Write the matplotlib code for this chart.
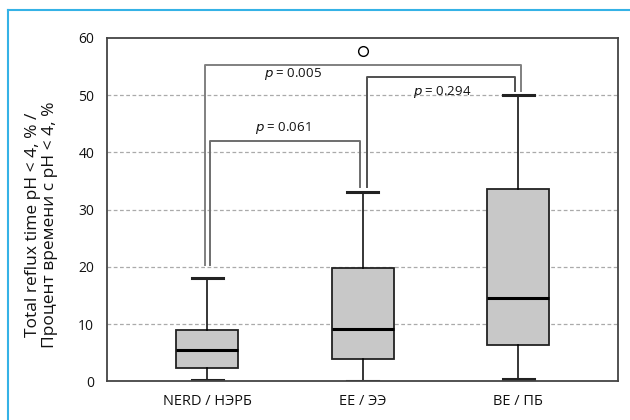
import matplotlib
matplotlib.use('Agg')
import matplotlib.pyplot as plt
from matplotlib.lines import Line2D

plt.rcParams['font.family'] = ['Open Sans', 'DejaVu Sans']

groups = ['NERD / НЭРБ', 'EE / ЭЭ', 'BE / ПБ']
whislo = [0.2, 0.1, 0.5]
q1 = [2.4, 4.0, 6.4]
med = [5.5, 9.2, 14.5]
q3 = [9.0, 19.8, 33.6]
whishi = [18.0, 33.0, 50.0]
fliers = [[], [57.7], []]

p_values = ['0.005', '0.061', '0.294']
br_x0 = [0.985, 1.017, 2.025]
br_x1 = [3.02, 1.98, 2.98]
br_top = [55.2, 42.0, 53.2]
br_lo0 = [20.3, 20.3, 34.0]
br_lo1 = [50.7, 34.0, 50.7]
br_col = ['#808080', '#6e6e6e', '#505050']
lab_x = [1.551, 1.484, 2.511]
lab_y = [53.7, 44.3, 50.6]

fig = plt.figure(figsize=(6.3, 4.2), dpi=100)
ax = fig.add_axes([0.1694, 0.0917, 0.812, 0.8185])

stats = []
for i in range(3):
    stats.append({'med': med[i], 'q1': q1[i], 'q3': q3[i],
                  'whislo': whislo[i], 'whishi': whishi[i], 'fliers': fliers[i]})

ax.bxp(stats, positions=[1, 2, 3], widths=0.4, capwidths=0.2, patch_artist=True,
       boxprops=dict(facecolor='#c8c8c8', edgecolor='#222222', linewidth=1.3),
       medianprops=dict(color='black', linewidth=2.2),
       whiskerprops=dict(color='black', linewidth=1.1),
       capprops=dict(color='#222222', linewidth=2.2),
       flierprops=dict(marker='o', markerfacecolor='white', markeredgecolor='black',
                       markersize=7, markeredgewidth=1.0))

# significance brackets
for i in range(3):
    ax.plot([br_x0[i], br_x0[i], br_x1[i], br_x1[i]],
            [br_lo0[i], br_top[i], br_top[i], br_lo1[i]],
            color=br_col[i], lw=1.4, zorder=1)
    ax.text(lab_x[i], lab_y[i], r'$\it{p}$ = ' + p_values[i], ha='center', va='center',
            fontsize=9.5, color='#111111')

ax.set_xlim(0.353, 3.643)
ax.set_ylim(0, 60)
ax.set_yticks(range(0, 61, 10))
ax.set_xticks([1, 2, 3])
ax.set_xticklabels(groups)
ax.tick_params(axis='both', length=0, labelsize=10, colors='#111111')
ax.tick_params(axis='x', pad=9, labelsize=10.5)
ax.tick_params(axis='y', pad=9)
for v in range(10, 51, 10):
    ax.axhline(v, color='#aaaaaa', lw=0.9, ls=(0, (3, 2)), zorder=0)
for s in ax.spines.values():
    s.set_color('#444444')
    s.set_linewidth(1.3)

fig.text(0.066, 0.464, 'Total reflux time pH < 4, % /\nПроцент времени с pH < 4, %',
         rotation=90, ha='center', va='center', fontsize=12.5, linespacing=1.12,
         multialignment='center', color='#111111')

fig.add_artist(Line2D([8 / 630, 8 / 630], [0, 1 - 10 / 420], color='#35b2e6', lw=1.5,
                      transform=fig.transFigure))
fig.add_artist(Line2D([8 / 630, 1], [1 - 10 / 420, 1 - 10 / 420], color='#35b2e6', lw=1.5,
                      transform=fig.transFigure))

fig.savefig('out.png', dpi=100)
